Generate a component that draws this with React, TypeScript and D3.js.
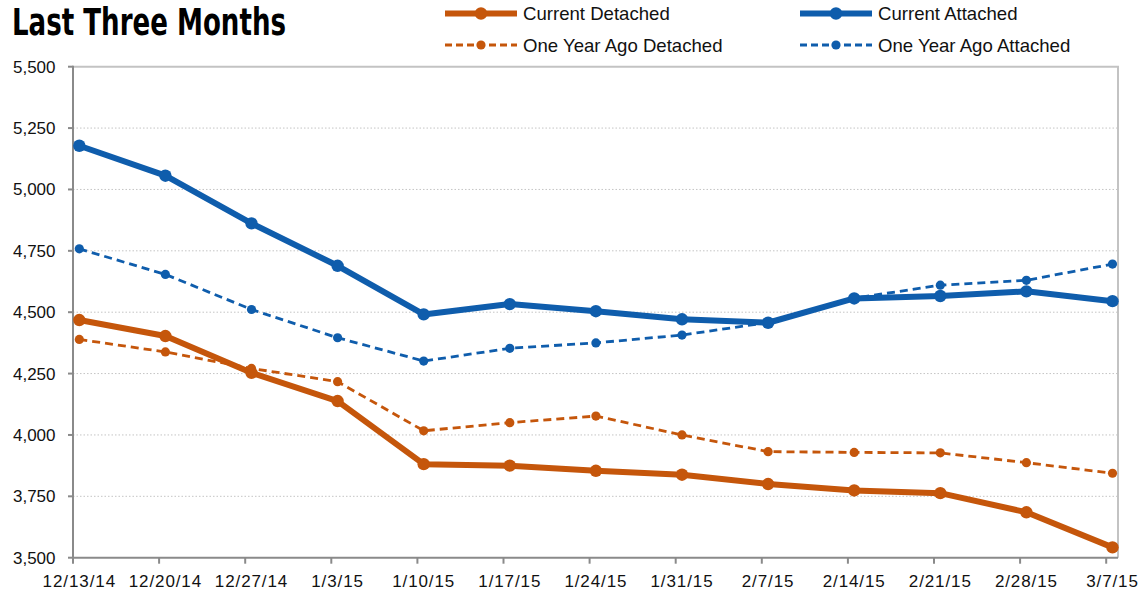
import { useEffect, useRef } from "react"
import * as d3 from "d3"

const weeks = [
  "12/13/14", "12/20/14", "12/27/14", "1/3/15", "1/10/15", "1/17/15", "1/24/15",
  "1/31/15", "2/7/15", "2/14/15", "2/21/15", "2/28/15", "3/7/15",
]

const currentDetached = [4468, 4403, 4253, 4138, 3881, 3875, 3854, 3838, 3800, 3774, 3763, 3685, 3542]
const currentAttached = [5178, 5056, 4862, 4689, 4491, 4533, 4504, 4471, 4457, 4556, 4566, 4585, 4545]
const yearAgoDetached = [4389, 4338, 4271, 4217, 4017, 4050, 4077, 4000, 3932, 3929, 3927, 3887, 3844]
const yearAgoAttached = [4758, 4654, 4511, 4396, 4301, 4353, 4375, 4407, 4458, 4557, 4610, 4630, 4696]

const yTicks = [3500, 3750, 4000, 4250, 4500, 4750, 5000, 5250, 5500]

const ORANGE = "#C5560B"
const BLUE = "#0F5DAC"

const series = [
  { name: "Current Detached", values: currentDetached, color: ORANGE, dashed: false },
  { name: "Current Attached", values: currentAttached, color: BLUE, dashed: false },
  { name: "One Year Ago Detached", values: yearAgoDetached, color: ORANGE, dashed: true },
  { name: "One Year Ago Attached", values: yearAgoAttached, color: BLUE, dashed: true },
]

const FONT = "'Liberation Sans', Arial, Helvetica, sans-serif"

export default function App() {
  const svgRef = useRef<SVGSVGElement>(null)

  useEffect(() => {
    const svg = d3.select(svgRef.current)
    svg.selectAll("*").remove()

    const plotLeft = 73
    const plotRight = 1118
    const plotTop = 66.7
    const plotBottom = 557.7
    // excel puts the points a bit to the right of the category ticks
    const tickShift = 6.3

    const xScale = d3.scalePoint<string>().domain(weeks).range([79.3, 1112.5])
    const yScale = d3.scaleLinear().domain([3500, 5500]).range([plotBottom, plotTop])

    // title
    svg
      .append("text")
      .attr("x", 12)
      .attr("y", 35)
      .attr("textLength", 274)
      .attr("lengthAdjust", "spacingAndGlyphs")
      .style("font-family", "'Liberation Sans Narrow', 'Arial Narrow', 'DejaVu Sans Condensed', sans-serif")
      .style("font-weight", 700)
      .style("font-size", "37px")
      .style("fill", "#000")
      .text("Last Three Months")

    // grid
    svg
      .selectAll(".grid")
      .data(yTicks.filter((t) => t !== 3500 && t !== 5500))
      .join("line")
      .attr("class", "grid")
      .attr("x1", plotLeft)
      .attr("x2", plotRight)
      .attr("y1", (d) => yScale(d))
      .attr("y2", (d) => yScale(d))
      .attr("stroke", "#c4c4c4")
      .attr("stroke-width", 1)
      .attr("stroke-dasharray", "1.5,2")

    // top + right frame
    svg
      .append("path")
      .attr("d", `M${plotLeft},${plotTop}H${plotRight}V${plotBottom}`)
      .attr("fill", "none")
      .attr("stroke", "#c3c3c3")
      .attr("stroke-width", 2)

    // y axis
    const yAxis = svg.append("g")
    yAxis
      .append("line")
      .attr("x1", plotLeft)
      .attr("x2", plotLeft)
      .attr("y1", plotTop - 1)
      .attr("y2", plotBottom + 1)
      .attr("stroke", "#8a8a8a")
      .attr("stroke-width", 2)
    yAxis
      .selectAll(".ytick")
      .data(yTicks)
      .join("line")
      .attr("class", "ytick")
      .attr("x1", plotLeft - 5)
      .attr("x2", plotLeft)
      .attr("y1", (d) => yScale(d))
      .attr("y2", (d) => yScale(d))
      .attr("stroke", "#8a8a8a")
      .attr("stroke-width", 2)
    yAxis
      .selectAll(".ylabel")
      .data(yTicks)
      .join("text")
      .attr("class", "ylabel")
      .attr("x", 55.5)
      .attr("y", (d) => yScale(d) + 6)
      .attr("text-anchor", "end")
      .style("font-family", FONT)
      .style("font-size", "17px")
      .style("fill", "#111")
      .text((d) => d3.format(",")(d))

    // x axis
    const xAxis = svg.append("g")
    xAxis
      .append("line")
      .attr("x1", plotLeft - 1)
      .attr("x2", plotRight)
      .attr("y1", plotBottom)
      .attr("y2", plotBottom)
      .attr("stroke", "#8a8a8a")
      .attr("stroke-width", 2)
    xAxis
      .selectAll(".xtick")
      .data(weeks)
      .join("line")
      .attr("class", "xtick")
      .attr("x1", (d) => xScale(d)! - tickShift)
      .attr("x2", (d) => xScale(d)! - tickShift)
      .attr("y1", plotBottom)
      .attr("y2", plotBottom + 6)
      .attr("stroke", "#8a8a8a")
      .attr("stroke-width", 2)
    xAxis
      .selectAll(".xlabel")
      .data(weeks)
      .join("text")
      .attr("class", "xlabel")
      .attr("x", (d) => xScale(d)!)
      .attr("y", 587)
      .attr("text-anchor", "middle")
      .style("font-family", FONT)
      .style("font-size", "17px")
      .style("letter-spacing", "0.9px")
      .style("fill", "#111")
      .text((d) => d)

    // lines
    const lineGenerator = d3
      .line<number>()
      .x((_, i) => xScale(weeks[i])!)
      .y((v) => yScale(v))

    series.forEach((s) => {
      const g = svg.append("g")
      g.append("path")
        .datum(s.values)
        .attr("d", lineGenerator)
        .attr("fill", "none")
        .attr("stroke", s.color)
        .attr("stroke-width", s.dashed ? 2.8 : 6)
        .attr("stroke-linejoin", "round")
        .attr("stroke-dasharray", s.dashed ? "8,5" : null)
      g.selectAll("circle")
        .data(s.values)
        .join("circle")
        .attr("cx", (_, i) => xScale(weeks[i])!)
        .attr("cy", (v) => yScale(v))
        .attr("r", s.dashed ? 4.6 : 6.2)
        .attr("fill", s.color)
    })

    // legend
    const legendPos = [
      { x: 445, y: 13.5 },
      { x: 800, y: 13.5 },
      { x: 445, y: 45 },
      { x: 800, y: 45 },
    ]
    series.forEach((s, i) => {
      const { x, y } = legendPos[i]
      const g = svg.append("g").attr("transform", `translate(${x},${y})`)
      g.append("line")
        .attr("x1", 0)
        .attr("x2", 72)
        .attr("y1", 0)
        .attr("y2", 0)
        .attr("stroke", s.color)
        .attr("stroke-width", s.dashed ? 2.8 : 6)
        .attr("stroke-dasharray", s.dashed ? "7,4" : null)
      g.append("circle")
        .attr("cx", 36)
        .attr("cy", 0)
        .attr("r", s.dashed ? 4.6 : 6.2)
        .attr("fill", s.color)
      g.append("text")
        .attr("x", 78)
        .attr("y", 6.5)
        .style("font-family", FONT)
        .style("font-size", "18.6px")
        .style("fill", "#111")
        .text(s.name)
    })
  }, [])

  return (
    <svg
      ref={svgRef}
      width={1139}
      height={595}
      style={{ position: "absolute", left: 0, top: 0, background: "#fff" }}
    />
  )
}
